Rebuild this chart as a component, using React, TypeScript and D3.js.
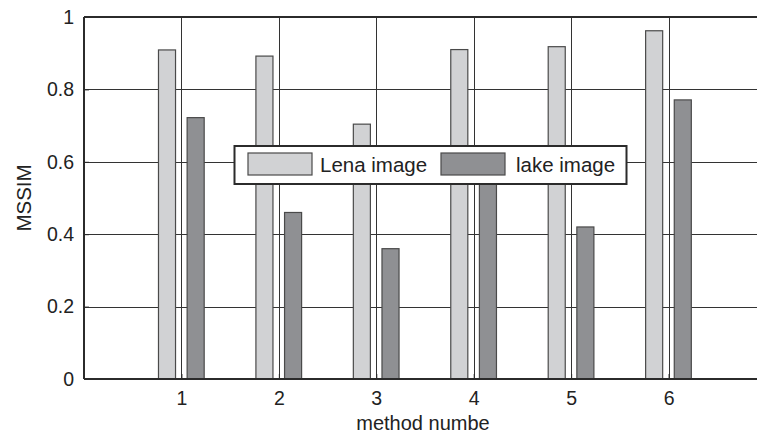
import React, { useEffect, useRef } from "react";
import * as d3 from "d3";

const methods = [1, 2, 3, 4, 5, 6];
const lenaValues = [0.909, 0.892, 0.704, 0.91, 0.918, 0.962];
const lakeValues = [0.722, 0.46, 0.36, 0.57, 0.42, 0.771];
const yTicks = [0, 0.2, 0.4, 0.6, 0.8, 1];
const seriesNames = ["Lena image", "lake image"];

const W = 757;
const H = 435;
const FONT = "'Liberation Sans', Arial, sans-serif";

export default function App() {
  const ref = useRef<SVGSVGElement>(null);

  useEffect(() => {
    const svg = d3.select(ref.current);
    svg.selectAll("*").remove();

    const margin = { left: 84, top: 17, right: -9, bottom: 56 };
    const x = d3.scaleLinear().domain([0, 7]).range([margin.left, W - margin.right]);
    const y = d3.scaleLinear().domain([0, 1]).range([H - margin.bottom, margin.top]);

    const bw = x(0.175) - x(0);
    const offLena = -0.148;
    const offLake = 0.146;

    // grid
    const grid = svg.append("g").attr("stroke", "#333").attr("stroke-width", 1);
    grid.selectAll("line.h")
      .data(yTicks.slice(1))
      .join("line")
      .attr("class", "h")
      .attr("x1", x(0)).attr("x2", x(7))
      .attr("y1", d => Math.round(y(d)) + 0.5).attr("y2", d => Math.round(y(d)) + 0.5);
    grid.selectAll("line.v")
      .data(methods)
      .join("line")
      .attr("class", "v")
      .attr("x1", d => Math.round(x(d)) + 0.5).attr("x2", d => Math.round(x(d)) + 0.5)
      .attr("y1", y(0)).attr("y2", y(1));

    // bars
    const bars = svg.append("g").attr("stroke", "#4a4a4a").attr("stroke-width", 1.2);
    bars.selectAll("rect.lena")
      .data(methods)
      .join("rect")
      .attr("class", "lena")
      .attr("x", (d) => x(d + offLena) - bw / 2)
      .attr("width", bw)
      .attr("y", (d, i) => y(lenaValues[i]))
      .attr("height", (d, i) => y(0) - y(lenaValues[i]))
      .attr("fill", "#d1d2d4");
    bars.selectAll("rect.lake")
      .data(methods)
      .join("rect")
      .attr("class", "lake")
      .attr("x", (d) => x(d + offLake) - bw / 2)
      .attr("width", bw)
      .attr("y", (d, i) => y(lakeValues[i]))
      .attr("height", (d, i) => y(0) - y(lakeValues[i]))
      .attr("fill", "#8f9093");

    // axes
    const axisColor = "#2b2b2b";
    svg.append("line")
      .attr("x1", x(0)).attr("x2", x(7))
      .attr("y1", y(0)).attr("y2", y(0))
      .attr("stroke", axisColor).attr("stroke-width", 2);
    svg.append("line")
      .attr("x1", x(0)).attr("x2", x(0))
      .attr("y1", y(0)).attr("y2", y(1))
      .attr("stroke", axisColor).attr("stroke-width", 2);
    svg.append("line")
      .attr("x1", x(0)).attr("x2", x(7))
      .attr("y1", y(1)).attr("y2", y(1))
      .attr("stroke", axisColor).attr("stroke-width", 2);

    const yAxis = svg.append("g")
      .attr("transform", `translate(${x(0)},0)`)
      .call(d3.axisLeft(y).tickValues(yTicks).tickFormat(d => d3.format("~g")(d as number)).tickSizeInner(-5).tickSizeOuter(0).tickPadding(10));
    yAxis.select(".domain").remove();
    yAxis.selectAll("line").attr("stroke", axisColor);
    yAxis.selectAll("text").attr("font-family", FONT).attr("font-size", 19.5).attr("fill", "#222");

    const xAxis = svg.append("g")
      .attr("transform", `translate(0,${y(0)})`)
      .call(d3.axisBottom(x).tickValues(methods).tickFormat(d => String(d)).tickSizeInner(-5).tickSizeOuter(0).tickPadding(12));
    xAxis.select(".domain").remove();
    xAxis.selectAll("line").attr("stroke", axisColor);
    xAxis.selectAll("text").attr("font-family", FONT).attr("font-size", 19.5).attr("fill", "#222");

    svg.append("text")
      .attr("x", (x(0) + x(7)) / 2 - 2)
      .attr("y", 430)
      .attr("text-anchor", "middle")
      .attr("font-family", FONT).attr("font-size", 20).attr("fill", "#222")
      .text("method numbe");

    svg.append("text")
      .attr("transform", `translate(31,${(y(0) + y(1)) / 2}) rotate(-90)`)
      .attr("text-anchor", "middle")
      .attr("font-family", FONT).attr("font-size", 20.5).attr("fill", "#222")
      .text("MSSIM");

    // legend
    const lg = svg.append("g");
    lg.append("rect")
      .attr("x", 234.5).attr("y", 146)
      .attr("width", 392).attr("height", 38)
      .attr("fill", "#fff").attr("stroke", "#2b2b2b").attr("stroke-width", 2);
    const swatchX = [248, 441];
    const textX = [320, 516];
    const fills = ["#d1d2d4", "#8f9093"];
    seriesNames.forEach((name, i) => {
      lg.append("rect")
        .attr("x", swatchX[i]).attr("y", 153)
        .attr("width", 64).attr("height", 22)
        .attr("fill", fills[i]).attr("stroke", "#4a4a4a").attr("stroke-width", 1.2);
      lg.append("text")
        .attr("x", textX[i]).attr("y", 172)
        .attr("font-family", FONT).attr("font-size", 20.5).attr("fill", "#222")
        .text(name);
    });
  }, []);

  return (
    <svg
      ref={ref}
      width={W}
      height={H}
      style={{ position: "absolute", left: 0, top: 0, background: "#fff" }}
    />
  );
}
